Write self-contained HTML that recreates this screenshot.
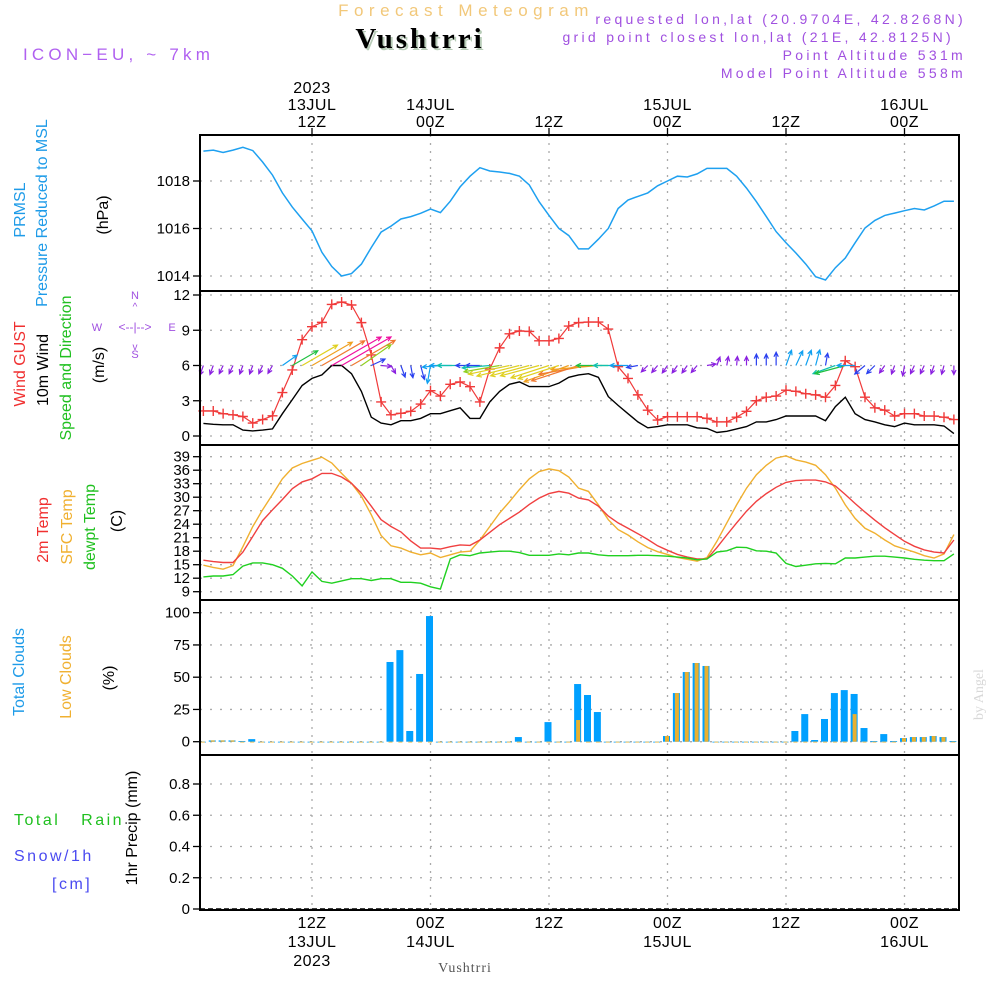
<!DOCTYPE html>
<html><head><meta charset="utf-8"><style>
html,body{margin:0;padding:0;background:#fff;}
svg{display:block;font-family:"Liberation Sans",sans-serif;}
</style></head><body>
<svg id="chart" width="1000" height="1000" viewBox="0 0 1000 1000" xmlns="http://www.w3.org/2000/svg">
<text x="466" y="16" text-anchor="middle" font-size="17" fill="#f2c87a" letter-spacing="5.5">Forecast Meteogram</text>
<text x="422" y="50" text-anchor="middle" font-size="29" font-weight="bold" font-family="Liberation Serif,serif" fill="#b8ccb8" letter-spacing="3">Vushtrri</text>
<text x="420" y="48" text-anchor="middle" font-size="29" font-weight="bold" font-family="Liberation Serif,serif" fill="#000" letter-spacing="3">Vushtrri</text>
<text x="23" y="60" font-size="17" fill="#b060f0" letter-spacing="4.2">ICON−EU, ~ 7km</text>
<g font-size="14" fill="#a050e0" text-anchor="end" letter-spacing="3.3">
<text x="966" y="24">requested lon,lat (20.9704E, 42.8268N)</text>
<text x="954" y="42">grid point closest lon,lat (21E, 42.8125N)</text>
<text x="966" y="60">Point Altitude 531m</text>
<text x="966" y="78">Model Point Altitude 558m</text>
</g>
<text transform="translate(983,720) rotate(-90)" font-size="14" fill="#d8d8d8" font-family="Liberation Serif,serif">by Angel</text>
<text x="465" y="972" text-anchor="middle" font-size="14" fill="#555" font-family="Liberation Serif,serif" letter-spacing="1">Vushtrri</text>

<g font-size="16">
<text transform="translate(25,210) rotate(-90)" text-anchor="middle" fill="#1e9be8">PRMSL</text>
<text transform="translate(47,213) rotate(-90)" text-anchor="middle" fill="#1e9be8">Pressure Reduced to MSL</text>
<text transform="translate(108,215) rotate(-90)" text-anchor="middle" fill="#000">(hPa)</text>
<text transform="translate(25,364) rotate(-90)" text-anchor="middle" fill="#f03030">Wind GUST</text>
<text transform="translate(48,370) rotate(-90)" text-anchor="middle" fill="#000">10m Wind</text>
<text transform="translate(71,368) rotate(-90)" text-anchor="middle" fill="#20c020">Speed and Direction</text>
<text transform="translate(104,365) rotate(-90)" text-anchor="middle" fill="#000">(m/s)</text>
<g font-size="11" fill="#a050e0" text-anchor="middle">
<text x="135" y="299">N</text><text x="135" y="358">S</text><text x="97" y="331">W</text><text x="172" y="331">E</text>
<text x="135" y="331" font-size="12">&lt;--|--&gt;</text>
<text x="135" y="310" font-size="10">^</text><text x="135" y="350" font-size="10">v</text>
</g>
<text transform="translate(48,530) rotate(-90)" text-anchor="middle" fill="#f03030">2m Temp</text>
<text transform="translate(72,527) rotate(-90)" text-anchor="middle" fill="#f0b030">SFC Temp</text>
<text transform="translate(95,527) rotate(-90)" text-anchor="middle" fill="#20c020">dewpt Temp</text>
<text transform="translate(122,521) rotate(-90)" text-anchor="middle" fill="#000">(C)</text>
<text transform="translate(24,672) rotate(-90)" text-anchor="middle" fill="#1e9be8">Total Clouds</text>
<text transform="translate(71,677) rotate(-90)" text-anchor="middle" fill="#f0b030">Low Clouds</text>
<text transform="translate(114,678) rotate(-90)" text-anchor="middle" fill="#000">(%)</text>
<text x="14" y="825" fill="#20c020" letter-spacing="2.5" xml:space="preserve">Total   Rain</text>
<text x="14" y="861" fill="#4a4af0" letter-spacing="2.5">Snow/1h</text>
<text x="52" y="889" fill="#4a4af0" letter-spacing="2.5">[cm]</text>
<text transform="translate(137,828) rotate(-90)" text-anchor="middle" fill="#000">1hr Precip (mm)</text>
</g>
<g id="plot"></g>
</svg>
<script>
const hours = [];for(let i=1;i<=77;i++)hours.push(i);
const pressure=[1019.26,1019.3,1019.2,1019.3,1019.42,1019.28,1018.8,1018.25,1017.5,1016.9,1016.4,1015.9,1015.0,1014.4,1014.0,1014.1,1014.5,1015.2,1015.85,1016.1,1016.4,1016.5,1016.64,1016.82,1016.67,1017.15,1017.75,1018.2,1018.56,1018.42,1018.38,1018.32,1018.2,1017.83,1017.13,1016.55,1016.0,1015.7,1015.14,1015.14,1015.55,1016.0,1016.84,1017.2,1017.35,1017.5,1017.8,1018.0,1018.2,1018.17,1018.3,1018.53,1018.53,1018.53,1018.2,1017.7,1017.13,1016.5,1015.87,1015.4,1014.97,1014.5,1013.97,1013.83,1014.35,1014.76,1015.4,1016.02,1016.34,1016.55,1016.65,1016.75,1016.84,1016.78,1016.95,1017.15,1017.15];
const gust=[2.13,2.13,1.9,1.8,1.66,1.1,1.4,1.72,3.7,5.62,8.2,9.3,9.67,11.2,11.4,11.15,9.65,6.9,2.9,1.8,1.93,2.1,2.72,3.86,3.4,4.4,4.6,4.2,2.9,5.7,7.5,8.7,8.94,8.9,8.1,8.1,8.3,9.36,9.65,9.7,9.7,9.1,5.9,4.9,3.5,2.2,1.36,1.64,1.64,1.64,1.64,1.5,1.2,1.2,1.6,2.1,3.0,3.3,3.4,3.9,3.8,3.6,3.5,3.3,4.3,6.4,5.9,3.3,2.4,2.2,1.7,1.9,1.9,1.7,1.7,1.6,1.4];
const wind=[1.07,1.0,0.95,0.95,0.5,0.43,0.5,0.6,1.9,3.1,4.3,4.9,5.2,6.0,6.0,5.3,3.8,1.6,1.1,0.95,1.3,1.3,1.5,1.9,1.9,2.15,2.4,1.5,1.5,2.9,3.8,4.4,4.6,4.2,4.2,4.2,4.5,5.0,5.2,5.3,5.0,3.35,2.6,1.9,1.2,0.7,0.8,0.95,0.95,0.95,0.7,0.65,0.3,0.4,0.6,0.8,1.2,1.2,1.4,1.7,1.7,1.7,1.7,1.3,2.5,3.3,1.9,1.4,1.2,0.95,0.8,1.1,0.95,0.95,0.95,0.85,0.2];
const windDir=[20,20,25,25,20,20,25,30,235,240,240,240,240,240,240,240,235,245,275,330,340,350,345,10,85,90,90,90,90,85,80,78,76,75,75,72,72,70,72,80,85,90,90,90,80,45,40,35,35,35,40,260,200,190,185,180,180,180,180,200,205,200,195,190,70,75,90,50,45,35,20,10,25,25,20,15,0];
const temp2m=[16.0,15.7,15.5,15.5,17.8,21.3,24.8,27.2,29.5,31.9,33.4,34.1,35.3,35.3,34.5,33.1,30.9,28.0,25.0,23.5,22.3,20.3,18.7,18.7,18.5,19.0,19.4,19.3,20.5,22.2,23.9,25.3,26.7,28.4,29.8,30.8,31.3,30.9,29.8,29.4,28.0,25.8,24.3,23.1,21.9,20.6,19.2,18.2,17.3,16.7,16.3,16.3,18.8,21.6,24.3,26.9,29.1,30.8,32.2,33.3,33.7,33.8,33.8,33.4,32.5,30.6,28.6,26.7,24.9,23.2,21.7,20.2,19.1,18.3,17.8,17.6,20.5];
const sfcTemp=[14.9,14.4,14.0,14.8,19.0,23.5,27.2,30.6,34.1,36.5,37.5,38.2,38.9,37.6,35.3,33.1,30.2,26.1,21.5,19.2,18.7,17.8,17.2,17.6,16.6,17.2,17.8,18.0,20.5,23.5,26.5,29.0,31.7,34.1,35.7,36.3,35.9,34.5,32.0,31.3,28.3,25.0,22.8,21.6,20.1,18.8,17.9,17.3,16.6,16.2,15.8,16.6,20.2,24.3,28.3,32.0,35.0,37.1,38.7,39.2,38.3,37.8,37.1,35.0,32.0,28.3,25.3,23.1,22.0,20.5,19.2,18.5,17.8,17.0,16.5,17.4,21.7];
const dewpt=[12.3,12.5,12.5,12.8,14.7,15.4,15.4,15.0,14.2,12.5,10.3,13.4,11.3,10.9,11.4,11.9,11.9,11.5,11.9,11.9,11.1,11.1,10.9,10.1,9.6,16.3,17.2,17.0,17.6,17.8,18.0,18.0,17.7,17.1,17.1,17.1,17.4,17.2,17.6,17.6,17.2,17.0,17.0,17.0,17.1,17.1,17.0,16.9,16.7,16.5,16.1,16.3,17.8,18.1,18.9,18.8,18.1,18.0,17.6,15.3,14.6,14.9,15.2,15.3,15.2,16.5,16.5,16.7,16.9,16.9,16.7,16.5,16.2,16.0,15.9,15.9,17.4];
const totalClouds=[0,1,1,1,0.5,2,0,0,0,0,0,0,0,0,0,0,0,0,0,61.8,71,8.3,52.5,97.4,0,0,0,0,0,0,0,0,3.6,0,0,15.2,0,0,44.7,36.2,23,0,0,0,0,0,0,4.4,37.7,54,61,58.7,0,0,0,0,0,0,0,0,8.3,21.4,1.3,17.6,37.7,40,37,10.6,0.5,5.9,0.5,2.8,3.6,3.6,4.4,3.6,0.5];
const lowClouds=[0,1,1,1,0,0,0,0,0,0,0,0,0,0,0,0,0,0,0,0,0,0,0,0,0,0,0,0,0,0,0,0,0,0,0,0,0,0,16.8,0,0,0,0,0,0,0,0,4.4,37.7,54,61,58.7,0,0,0,0,0,0,0,0,0,0,0,0,0,0,21.4,0,0,0,0,2.8,3.6,3.6,4.4,3.6,0];
const precip=new Array(77).fill(0);
const pressureTicks=[1014,1016,1018];
const windTicks=[0,3,6,9,12];
const tempTicks=[9,12,15,18,21,24,27,30,33,36,39];
const cloudTicks=[0,25,50,75,100];
const precipTicks=[0,0.2,0.4,0.6,0.8];
const timeTicks=[12,24,36,48,60,72];
const topLabels=[["2023","13JUL","12Z"],["14JUL","00Z"],["12Z"],["15JUL","00Z"],["12Z"],["16JUL","00Z"]];
const bottomLabels=[["12Z","13JUL","2023"],["00Z","14JUL"],["12Z"],["00Z","15JUL"],["12Z"],["00Z","16JUL"]];

const NS='http://www.w3.org/2000/svg';
const plot=document.getElementById('plot');
function mk(tag,attrs,parent){const e=document.createElementNS(NS,tag);for(const k in attrs)e.setAttribute(k,attrs[k]);(parent||plot).appendChild(e);return e;}
const L=200,R=959;
const xS=h=>193.5+9.875*h;
const yP=v=>181-(v-1018)*23.75;
const yW=v=>436-v*11.75;
const yT=v=>591.7-(v-9)*4.5;
const yC=v=>741.7-v*1.29;
const yR=v=>909-v*156.25;
const panels=[[135,291],[291,445],[445,600],[600,755],[755,910]];

const grid=mk('g',{});


function hgrid(ticks,fy,p,labFmt,name){
  ticks.forEach(t=>{
    const y=fy(t);
    const ln=mk('line',{x1:L,x2:R,y1:y,y2:y,stroke:'#aaa','stroke-width':1.3,'stroke-dasharray':'2,8'},grid);
    
    
    const tk=mk('line',{x1:L-7,x2:L,y1:y,y2:y,stroke:'#000','stroke-width':1.3},grid);
    
    
    const tx=mk('text',{x:L-10,y:y+5,'text-anchor':'end','font-size':15,fill:'#000'},grid);
    
    
    tx.textContent=labFmt(t);
  });
}
hgrid(pressureTicks,yP,0,t=>t,'pressure');
hgrid(windTicks,yW,1,t=>t,'wind');
hgrid(tempTicks,yT,2,t=>t,'temp');
hgrid(cloudTicks,yC,3,t=>t,'cloud');
hgrid(precipTicks,yR,4,t=>t===0?'0':t.toFixed(1),'precip');
timeTicks.forEach((h,i)=>{
  const x=xS(h);
  const v=mk('line',{x1:x,x2:x,y1:135,y2:910,stroke:'#aaa','stroke-width':1.3,'stroke-dasharray':'2,6'},grid);
  
  
  const t1=mk('line',{x1:x,x2:x,y1:128,y2:135,stroke:'#000','stroke-width':1.3},grid);
  
  
  const tl=topLabels[i];
  tl.forEach((s,j)=>{
    const tx=mk('text',{x:x,y:127-(tl.length-1-j)*17,'text-anchor':'middle','font-size':16,fill:'#000','letter-spacing':0.5},grid);
    
    
    tx.textContent=s;
  });
  bottomLabels[i].forEach((s,j)=>{
    const tx=mk('text',{x:x,y:928+j*19,'text-anchor':'middle','font-size':16,fill:'#000','letter-spacing':0.5},grid);
    
    
    tx.textContent=s;
  });
});

function line(arr,fy,color,name,w){
  const d=arr.map((v,i)=>(i?'L':'M')+xS(hours[i]).toFixed(1)+','+fy(v).toFixed(1)).join('');
  const p=mk('path',{d:d,fill:'none',stroke:color,'stroke-width':w||1.3});
  
  
  return p;
}
line(pressure,yP,'#1ea0f0','pressure-line',1.5);
line(wind,yW,'#000','wind-speed-line',1.4);
line(gust,yW,'#f03a3a','wind-gust-line',1.2);
const gm=mk('g',{});


gust.forEach((v,i)=>{
  const x=xS(hours[i]),y=yW(v);
  const m=mk('path',{d:`M${x-5},${y}L${x+5},${y}M${x},${y-5}L${x},${y+5}`,stroke:'#f03a3a','stroke-width':1.4},gm);
  
  
});
function spdColor(s){
  if(s<1.2)return '#8a20e0';
  if(s<1.7)return '#2a40f0';
  if(s<2.3)return '#10a0f0';
  if(s<3.0)return '#10c0b0';
  if(s<3.6)return '#20c040';
  if(s<4.2)return '#90d020';
  if(s<4.7)return '#e0d020';
  if(s<5.1)return '#f0a020';
  if(s<5.6)return '#f07830';
  return '#f010a0';
}
const ag=mk('g',{});


wind.forEach((s,i)=>{
  const x0=xS(hours[i]),y0=yW(6);
  const to=(windDir[i]+180)*Math.PI/180;
  const len=Math.max(9,s*9.5);
  const dx=Math.sin(to),dy=-Math.cos(to);
  const x1=x0+dx*len,y1=y0+dy*len;
  const hl=5,a=0.45;
  const bx=-dx,by=-dy;
  const h1x=x1+hl*(bx*Math.cos(a)-by*Math.sin(a)),h1y=y1+hl*(bx*Math.sin(a)+by*Math.cos(a));
  const h2x=x1+hl*(bx*Math.cos(-a)-by*Math.sin(-a)),h2y=y1+hl*(bx*Math.sin(-a)+by*Math.cos(-a));
  const p=mk('path',{d:`M${x0},${y0}L${x1},${y1}M${h1x},${h1y}L${x1},${y1}L${h2x},${h2y}`,stroke:spdColor(s),'stroke-width':1.2,fill:'none'},ag);
  
  
});
line(sfcTemp,yT,'#f0b030','sfc-temp-line',1.4);
line(temp2m,yT,'#f04040','temp-2m-line',1.4);
line(dewpt,yT,'#20d020','dewpoint-line',1.4);
const cg=mk('g',{});


totalClouds.forEach((v,i)=>{
  const cx=xS(hours[i])-1;
  const y=yC(v),y0=yC(0);
  const b=mk('rect',{x:cx-3.5,y:y,width:7,height:Math.max(0.8,y0-y),fill:'#00a0ff'},cg);
  
  
  const lv=lowClouds[i];
  const ly=yC(lv);
  const lb=mk('rect',{x:cx-1.5,y:ly,width:4,height:Math.max(0.8,y0-ly),fill:'#e8b030'},cg);
  
  
});
const pg=mk('g',{});


precip.forEach((v,i)=>{
  const cx=xS(hours[i]);
  const y=yR(v);
  const b=mk('rect',{x:cx-3,y:y,width:6,height:yR(0)-y,fill:'#20c020'},pg);
  
  
});
const zl=mk('line',{x1:L,x2:R,y1:909,y2:909,stroke:'#000','stroke-width':1.5,'stroke-dasharray':'5,3'});


panels.forEach((p,i)=>{
  const r=mk('rect',{x:L,y:p[0],width:R-L,height:p[1]-p[0],fill:'none',stroke:'#000','stroke-width':2});
  
  
});
</script>
</body></html>
